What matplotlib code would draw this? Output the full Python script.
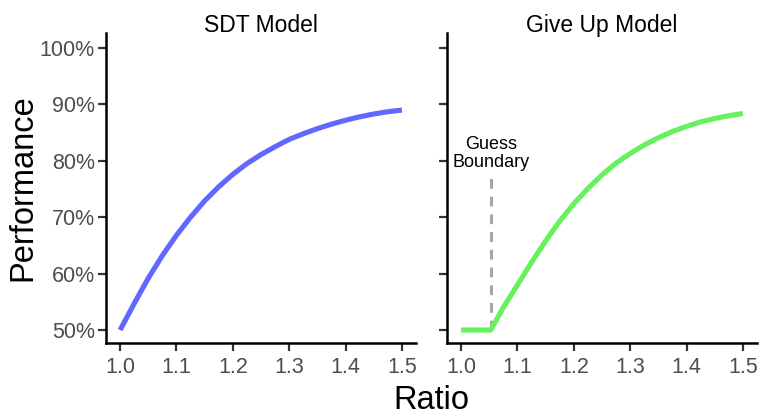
import matplotlib
matplotlib.use("Agg")
import matplotlib.pyplot as plt
from matplotlib.ticker import FuncFormatter

# ---- data ----
ratio_sdt = [1.0, 1.025, 1.05, 1.075, 1.1, 1.125, 1.15, 1.175, 1.2, 1.225, 1.25,
             1.275, 1.3, 1.325, 1.35, 1.375, 1.4, 1.425, 1.45, 1.475, 1.5]
perf_sdt = [0.500, 0.547, 0.592, 0.632, 0.668, 0.700, 0.729, 0.754, 0.776, 0.795, 0.811,
            0.825, 0.838, 0.848, 0.857, 0.865, 0.872, 0.878, 0.883, 0.887, 0.890]

ratio_giveup = [1.0, 1.0525, 1.075, 1.1, 1.125, 1.15, 1.175, 1.2, 1.225, 1.25, 1.275,
                1.3, 1.325, 1.35, 1.375, 1.4, 1.425, 1.45, 1.475, 1.5]
perf_giveup = [0.500, 0.500, 0.540, 0.580, 0.620, 0.658, 0.693, 0.724, 0.751, 0.775, 0.796,
               0.813, 0.828, 0.841, 0.852, 0.861, 0.869, 0.875, 0.880, 0.884]

guess_boundary = 1.0525
guess_top = 0.77

panel_titles = ["SDT Model", "Give Up Model"]
x_ticks = [1.0, 1.1, 1.2, 1.3, 1.4, 1.5]
y_ticks = [0.5, 0.6, 0.7, 0.8, 0.9, 1.0]

plt.rcParams['font.family'] = ['Liberation Sans', 'DejaVu Sans']

W, H = 760, 417
fig = plt.figure(figsize=(W / 100, H / 100), dpi=100)

def axes_px(x0, x1, ytop, ybot):
    return fig.add_axes([x0 / W, (H - ybot) / H, (x1 - x0) / W, (ybot - ytop) / H])

ax1 = axes_px(106, 416, 33, 343)
ax2 = axes_px(447, 757, 33, 343)

blue = '#6068ff'
green = '#66f25c'

ax1.plot(ratio_sdt, perf_sdt, color=blue, lw=3.7, solid_capstyle='butt',
         solid_joinstyle='round')
ax2.plot([guess_boundary, guess_boundary], [0.5, guess_top], color='#a6a6a6', lw=2.2,
         dashes=(3.2, 2.6))
ax2.plot(ratio_giveup, perf_giveup, color=green, lw=3.7, solid_capstyle='butt',
         solid_joinstyle='round')
ax2.text(guess_boundary, 0.789, "Guess\nBoundary", ha='center', va='baseline',
         fontsize=13, color='black', linespacing=1.1)

pct = FuncFormatter(lambda v, p: f"{int(round(v * 100))}%")
for i, ax in enumerate([ax1, ax2]):
    ax.set_xlim(0.975, 1.525)
    ax.set_ylim(0.477, 1.0266)
    ax.set_xticks(x_ticks)
    ax.set_xticklabels([f"{t:.1f}" for t in x_ticks])
    ax.set_yticks(y_ticks)
    ax.yaxis.set_major_formatter(pct)
    for s in ['top', 'right']:
        ax.spines[s].set_visible(False)
    for s in ['left', 'bottom']:
        ax.spines[s].set_linewidth(1.8)
        ax.spines[s].set_color('black')
    ax.tick_params(axis='both', length=6, width=1.6, color='#333333',
                   labelsize=15.5, labelcolor='#4d4d4d')
    ax.tick_params(axis='x', pad=4)
    ax.tick_params(axis='y', pad=2)
    ax.text(0.5, 1.003, panel_titles[i], transform=ax.transAxes, ha='center',
            va='baseline', fontsize=16.5, color='black')
ax2.tick_params(axis='y', labelleft=False)

fig.text(23 / W, 0.5 * ((H - 343) + (H - 33)) / H, "Performance", rotation=90,
         ha='center', va='center', fontsize=23.5, color='black')
fig.text(431 / W, 8 / H, "Ratio", ha='center', va='baseline', fontsize=23.5,
         color='black')

fig.savefig("out.png", dpi=100)
